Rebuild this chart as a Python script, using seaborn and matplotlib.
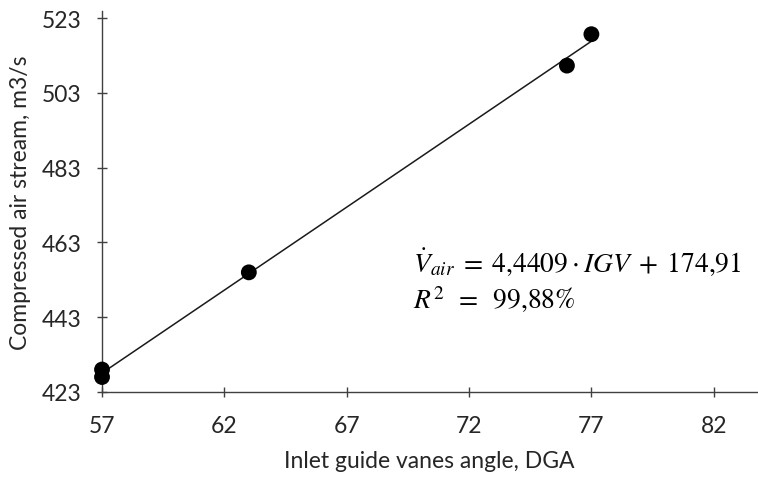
import numpy as np
import pandas as pd
import seaborn as sns
import matplotlib.pyplot as plt

# data
igv_angle = [57, 57, 63, 76, 77]
air_stream = [427.0, 429.0, 455.0, 510.3, 518.7]
x_ticks = [57, 62, 67, 72, 77, 82]
y_ticks = [423, 443, 463, 483, 503, 523]

df = pd.DataFrame({'igv': igv_angle, 'air': air_stream})

sns.set_style('ticks')
plt.rcParams['font.family'] = ['Lato', 'DejaVu Sans']
plt.rcParams['mathtext.fontset'] = 'stix'

fig = plt.figure(figsize=(7.58, 4.81), dpi=100)
ax = fig.add_axes([0.1346, 0.183, 0.8635, 0.792])

sns.regplot(data=df, x='igv', y='air', ci=None, truncate=True, ax=ax,
            scatter_kws={'s': 130, 'color': 'black', 'edgecolor': 'none',
                         'alpha': 1, 'clip_on': False, 'zorder': 3},
            line_kws={'color': '#1a1a1a', 'linewidth': 1.1})

ax.set_xlim(57, 83.75)
ax.set_ylim(423, 524.9)
ax.set_xticks(x_ticks)
ax.set_yticks(y_ticks)
ax.tick_params(direction='inout', length=7, width=1, color='#404040',
               labelsize=16.5, labelcolor='#262626')
ax.tick_params(axis='x', pad=13)
ax.tick_params(axis='y', pad=11)
for side in ['top', 'right']:
    ax.spines[side].set_visible(False)
for side in ['left', 'bottom']:
    ax.spines[side].set_color('#404040')
    ax.spines[side].set_linewidth(1)

ax.set_xlabel('Inlet guide vanes angle, DGA', fontsize=16.5, color='#262626', labelpad=10)
ax.set_ylabel('Compressed air stream, m3/s', fontsize=16.5, color='#262626', labelpad=8)

# regression equation
fig.text(0.545, 0.4324, r'$\dot{V}_{air}\;=\;4{,}4409\cdot IGV\;+\;174{,}91$',
         fontsize=19.8, va='baseline', ha='left', color='black')
fig.text(0.545, 0.3576, r'$R^2\;\;=\;\;99{,}88\%$',
         fontsize=19.8, va='baseline', ha='left', color='black')

fig.savefig('out.png', dpi=100)
